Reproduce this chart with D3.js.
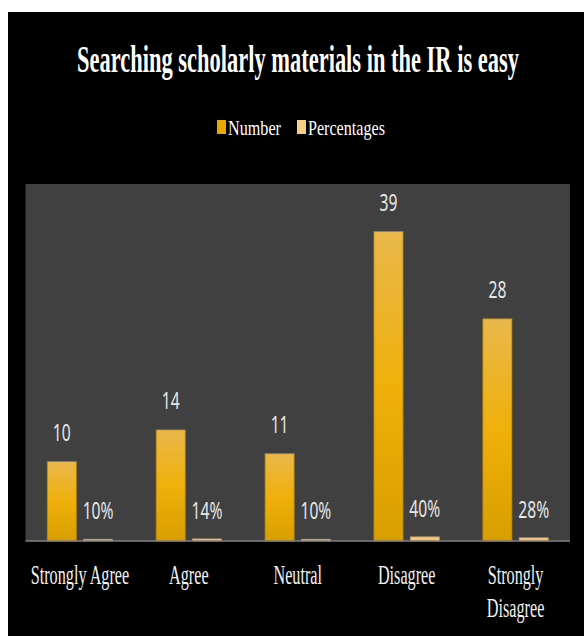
<!DOCTYPE html>
<html>
<head>
<meta charset="utf-8">
<script src="https://cdn.jsdelivr.net/npm/d3@7"></script>
<style>
  body { margin: 0; background: #ffffff; }
  svg { display: block; }
</style>
</head>
<body>
<script>
var categories = ["Strongly Agree", "Agree", "Neutral", "Disagree", "Strongly Disagree"];
var numbers = [10, 14, 11, 39, 28];
var percentages = [0.10, 0.14, 0.10, 0.40, 0.28];
var pctLabels = ["10%", "14%", "10%", "40%", "28%"];
var seriesNames = ["Number", "Percentages"];

var width = 584, height = 636;
var svg = d3.select("body").append("svg").attr("width", width).attr("height", height);

var defs = svg.append("defs");
var grad = defs.append("linearGradient").attr("id", "numGrad")
  .attr("x1", 0).attr("y1", 0).attr("x2", 0).attr("y2", 1);
grad.append("stop").attr("offset", "0%").attr("stop-color", "#e9b84c");
grad.append("stop").attr("offset", "50%").attr("stop-color", "#efb00a");
grad.append("stop").attr("offset", "100%").attr("stop-color", "#d89e00");

// black chart background
svg.append("rect").attr("x", 8).attr("y", 12).attr("width", width - 8).attr("height", height - 12)
  .attr("fill", "#000000");

var plot = {left: 25.5, right: 570, top: 184, bottom: 541};

svg.append("rect").attr("x", plot.left).attr("y", plot.top)
  .attr("width", plot.right - plot.left).attr("height", plot.bottom - plot.top)
  .attr("fill", "#404040");

var x = d3.scaleBand().domain(categories).range([plot.left, plot.right]);
var x1 = d3.scaleBand().domain(seriesNames).range([0, x.bandwidth()]).paddingInner(0.2).paddingOuter(0.6);
var y = d3.scaleLinear().domain([0, 45]).range([plot.bottom, plot.top]);

// condensed text helper
function squeeze(sel, sx) {
  sel.attr("transform", function() {
    var t = d3.select(this);
    return "translate(" + t.attr("data-x") + "," + t.attr("data-y") + ") scale(" + sx + ",1)";
  });
}

// title, squeezed to the reference width
var title = svg.append("text")
  .attr("data-x", 298).attr("data-y", 72)
  .attr("text-anchor", "middle")
  .attr("font-family", "Liberation Serif, Times New Roman, serif")
  .attr("font-weight", "bold")
  .attr("font-size", 38)
  .attr("fill", "#ffffff")
  .text("Searching scholarly materials in the IR is easy");
title.call(squeeze, 442 / title.node().getComputedTextLength());

// legend
var legendItems = [
  {name: "Number", sq: 217, tx: 228, len: 53, color: "#e8a800"},
  {name: "Percentages", sq: 297, tx: 308, len: 77, color: "#f7cf86"}
];
var lg = svg.append("g");
lg.selectAll("rect").data(legendItems).enter().append("rect")
  .attr("x", function(d) { return d.sq; }).attr("y", 120)
  .attr("width", 9).attr("height", 14)
  .attr("fill", function(d) { return d.color; });
lg.selectAll("text").data(legendItems).enter().append("text")
  .attr("data-x", function(d) { return d.tx; }).attr("data-y", 135)
  .attr("font-family", "Liberation Serif, Times New Roman, serif")
  .attr("font-size", 22)
  .attr("fill", "#ffffff")
  .text(function(d) { return d.name; })
  .each(function(d) {
    d3.select(this).call(squeeze, d.len / this.getComputedTextLength());
  });

// bars
var groups = svg.selectAll("g.cat").data(categories).enter().append("g")
  .attr("class", "cat")
  .attr("transform", function(d) { return "translate(" + x(d) + ",0)"; });

groups.append("rect")
  .attr("x", x1("Number"))
  .attr("y", function(d, i) { return y(numbers[i]); })
  .attr("width", x1.bandwidth())
  .attr("height", function(d, i) { return y(0) - y(numbers[i]); })
  .attr("fill", "url(#numGrad)")
  .attr("stroke", "#b8860b").attr("stroke-width", 0.8);

groups.append("rect")
  .attr("x", x1("Percentages"))
  .attr("y", function(d, i) { return y(percentages[i]) - 1; })
  .attr("width", x1.bandwidth())
  .attr("height", function(d, i) { return y(0) - y(percentages[i]) + 1; })
  .attr("fill", "#f2c47c")
  .attr("stroke", "#c99a55").attr("stroke-width", 0.6);

// value labels
groups.append("text")
  .attr("data-x", x1("Number") + x1.bandwidth() / 2)
  .attr("data-y", function(d, i) { return y(numbers[i]) - 21; })
  .attr("text-anchor", "middle")
  .attr("font-family", "Noto Sans, DejaVu Sans, sans-serif")
  .attr("font-size", 23)
  .attr("fill", "#e6e6e6")
  .text(function(d, i) { return numbers[i]; })
  .call(squeeze, 0.68);

groups.append("text")
  .attr("data-x", x1("Percentages") + x1.bandwidth() / 2)
  .attr("data-y", function(d, i) { return y(percentages[i]) - 21; })
  .attr("text-anchor", "middle")
  .attr("font-family", "Noto Sans, DejaVu Sans, sans-serif")
  .attr("font-size", 23)
  .attr("fill", "#e6e6e6")
  .text(function(d, i) { return pctLabels[i]; })
  .call(squeeze, 0.68);

// axis line
svg.append("line")
  .attr("x1", plot.left).attr("x2", plot.right)
  .attr("y1", y(0)).attr("y2", y(0))
  .attr("stroke", "#808080").attr("stroke-width", 1.5);

// category labels
function wrapLabel(d) {
  return d === "Strongly Disagree" ? ["Strongly", "Disagree"] : [d];
}
var cl = svg.selectAll("g.catlabel").data(categories).enter().append("g")
  .attr("class", "catlabel");
cl.each(function(d) {
  var g = d3.select(this);
  wrapLabel(d).forEach(function(line, j) {
    g.append("text")
      .attr("data-x", x(d) + x.bandwidth() / 2)
      .attr("data-y", 584 + j * 33)
      .attr("text-anchor", "middle")
      .attr("font-family", "Liberation Serif, Times New Roman, serif")
      .attr("font-size", 27)
      .attr("fill", "#f2f2f2")
      .text(line)
      .call(squeeze, 0.6);
  });
});
</script>
</body>
</html>
